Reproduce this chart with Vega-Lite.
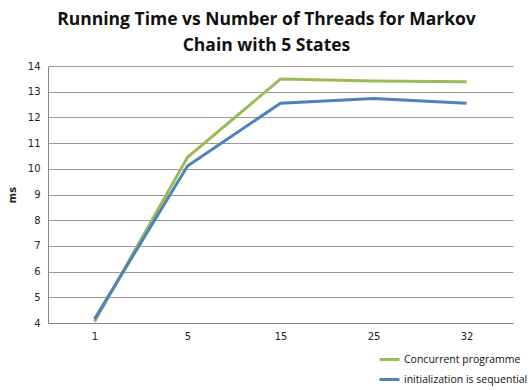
{
  "$schema": "https://vega.github.io/schema/vega-lite/v6.json",
  "autosize": "none",
  "width": 465,
  "height": 257,
  "padding": {"left": 48, "top": 66, "right": 19, "bottom": 67},
  "background": "white",
  "title": {
    "text": ["Running Time vs Number of Threads for Markov", "Chain with 5 States"],
    "font": "Open Sans",
    "fontSize": 17.5,
    "fontWeight": "bold",
    "color": "#111111",
    "anchor": "middle",
    "dx": -14,
    "offset": 7,
    "lineHeight": 26
  },
  "data": {
    "values": [
      {"threads": "1", "series": "Concurrent programme", "ms": 4.05},
      {"threads": "5", "series": "Concurrent programme", "ms": 10.45},
      {"threads": "15", "series": "Concurrent programme", "ms": 13.49},
      {"threads": "25", "series": "Concurrent programme", "ms": 13.42},
      {"threads": "32", "series": "Concurrent programme", "ms": 13.39},
      {"threads": "1", "series": "initialization is sequential", "ms": 4.15},
      {"threads": "5", "series": "initialization is sequential", "ms": 10.11},
      {"threads": "15", "series": "initialization is sequential", "ms": 12.55},
      {"threads": "25", "series": "initialization is sequential", "ms": 12.74},
      {"threads": "32", "series": "initialization is sequential", "ms": 12.55}
    ]
  },
  "mark": {"type": "line", "strokeWidth": 3},
  "encoding": {
    "x": {
      "field": "threads",
      "type": "ordinal",
      "sort": ["1", "5", "15", "25", "32"],
      "scale": {"type": "point", "padding": 0.5},
      "axis": {
        "title": null,
        "labelAngle": 0,
        "ticks": false,
        "labelPadding": 8,
        "labelFont": "DejaVu Sans",
        "labelFontSize": 10,
        "labelColor": "#222222",
        "domainColor": "#888888",
        "grid": false
      }
    },
    "y": {
      "field": "ms",
      "type": "quantitative",
      "scale": {"domain": [4, 14], "nice": false, "zero": false},
      "axis": {
        "title": "ms",
        "titleFont": "DejaVu Sans",
        "titleFontSize": 10,
        "titleFontWeight": "bold",
        "titleColor": "#222222",
        "titlePadding": 10,
        "values": [4, 5, 6, 7, 8, 9, 10, 11, 12, 13, 14],
        "ticks": false,
        "labelPadding": 8,
        "labelFont": "DejaVu Sans",
        "labelFontSize": 10,
        "labelColor": "#222222",
        "domainColor": "#888888",
        "gridColor": "#999999",
        "gridOpacity": 1
      }
    },
    "color": {
      "field": "series",
      "type": "nominal",
      "scale": {
        "domain": ["Concurrent programme", "initialization is sequential"],
        "range": ["#9BBB59", "#4F81BD"]
      },
      "legend": {
        "title": null,
        "orient": "none",
        "legendX": 330,
        "legendY": 282,
        "symbolType": "stroke",
        "symbolSize": 400,
        "symbolStrokeWidth": 3,
        "labelFont": "Open Sans",
        "labelFontSize": 10.5,
        "labelColor": "#111111",
        "labelOffset": 3,
        "rowPadding": 2
      }
    }
  },
  "config": {"view": {"stroke": null}}
}
